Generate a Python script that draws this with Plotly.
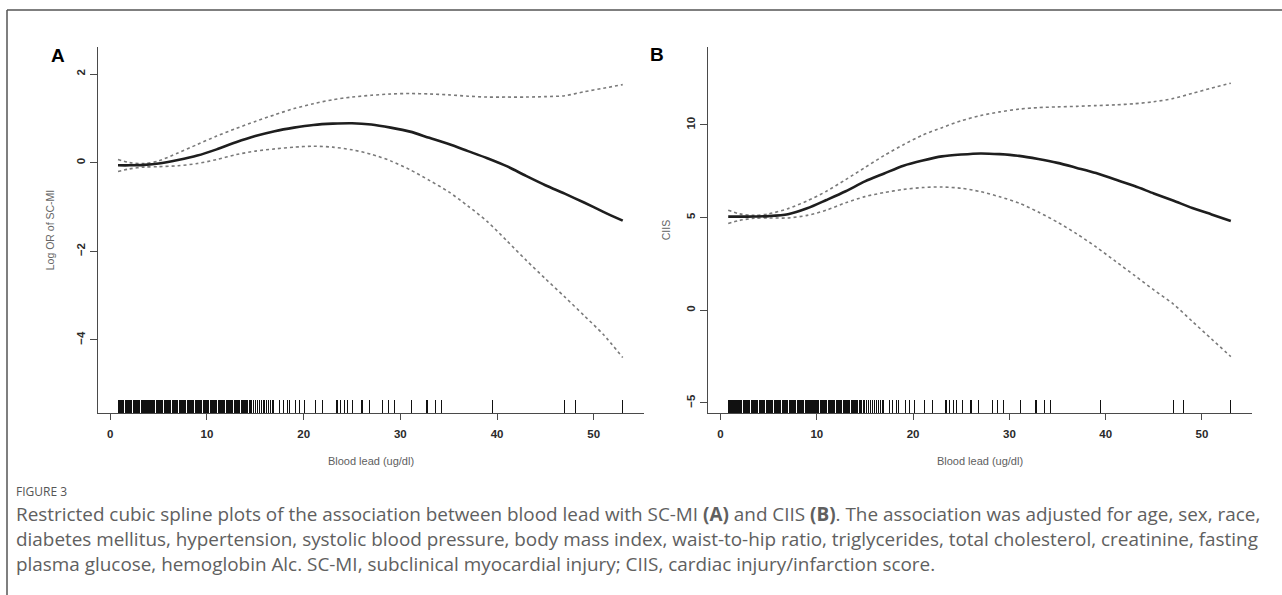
import plotly.graph_objects as go

W, H = 1282, 595

# ---------------- data ----------------
x_grid = [0.8, 2, 3.5, 5, 7, 9, 11, 13, 15, 17, 19, 21, 23, 25, 27, 29, 31,
          33, 35, 37, 39, 41, 43, 45, 47, 49, 51, 53]

# Panel A: log OR of SC-MI
a_fit = [-0.06, -0.06, -0.05, -0.02, 0.06, 0.16, 0.30, 0.46, 0.60, 0.71, 0.79,
         0.85, 0.88, 0.89, 0.86, 0.79, 0.70, 0.56, 0.42, 0.26, 0.10, -0.08,
         -0.30, -0.51, -0.70, -0.90, -1.11, -1.31]
a_upper = [0.07, 0.00, -0.02, 0.04, 0.22, 0.41, 0.60, 0.77, 0.93, 1.08, 1.22,
           1.33, 1.42, 1.48, 1.52, 1.55, 1.56, 1.55, 1.53, 1.50, 1.48, 1.48,
           1.48, 1.49, 1.51, 1.60, 1.68, 1.76]
a_lower = [-0.20, -0.14, -0.10, -0.09, -0.07, -0.02, 0.07, 0.18, 0.26, 0.31,
           0.35, 0.37, 0.35, 0.29, 0.19, 0.04, -0.16, -0.40, -0.66, -0.98,
           -1.33, -1.76, -2.20, -2.62, -3.03, -3.45, -3.88, -4.40]

# Panel B: CIIS
b_fit = [5.05, 5.05, 5.06, 5.08, 5.18, 5.50, 5.95, 6.42, 6.95, 7.38, 7.80,
         8.08, 8.30, 8.40, 8.46, 8.42, 8.33, 8.16, 7.95, 7.68, 7.40, 7.05,
         6.70, 6.30, 5.92, 5.52, 5.17, 4.82]
b_upper = [5.40, 5.20, 5.12, 5.20, 5.48, 5.90, 6.42, 7.05, 7.70, 8.35, 8.93,
           9.45, 9.85, 10.22, 10.50, 10.70, 10.85, 10.93, 10.97, 11.00, 11.04,
           11.08, 11.14, 11.25, 11.42, 11.70, 11.98, 12.25]
b_lower = [4.68, 4.85, 4.96, 4.98, 4.98, 5.12, 5.40, 5.80, 6.13, 6.35, 6.52,
           6.62, 6.65, 6.58, 6.40, 6.12, 5.78, 5.30, 4.75, 4.12, 3.42, 2.65,
           1.88, 1.10, 0.35, -0.60, -1.55, -2.50]

# Rug: observed blood lead values (ug/dl)
rug_dense = [0.8, 0.9, 1.0, 1.1, 1.2, 1.3, 1.4, 1.6, 1.7, 1.8, 1.9, 2.0,
             2.1, 2.2, 2.4, 2.5, 2.6, 2.7, 2.8, 2.9, 3.0, 3.2, 3.3, 3.4,
             3.5, 3.6, 3.7, 3.8, 4.0, 4.1, 4.2, 4.3, 4.4, 4.5, 4.6, 4.8,
             4.9, 5.0, 5.1, 5.2, 5.3, 5.4, 5.6, 5.7, 5.8, 5.9, 6.0, 6.1,
             6.2, 6.4, 6.5, 6.6, 6.7, 6.8, 6.9, 7.0, 7.2, 7.3, 7.4, 7.5,
             7.6, 7.7, 7.8, 8.0, 8.1, 8.2, 8.3, 8.4, 8.5, 8.6, 8.8, 8.9,
             9.0, 9.1, 9.2, 9.3, 9.4, 9.6, 9.7, 9.8, 9.9, 10.0, 10.1, 10.2,
             10.4, 10.5, 10.6, 10.7, 10.8, 10.9, 11.0, 11.2, 11.3, 11.4, 11.5,
             11.6, 11.7, 11.8, 12.0, 12.1, 12.2, 12.3, 12.4, 12.5, 12.6, 12.8,
             12.9, 13.0, 13.1, 13.2, 13.3, 13.4, 13.6, 13.7, 13.8, 13.9, 14.0,
             14.1, 14.2, 14.4, 14.5]
rug_sparse = [14.6, 14.8, 15.0, 15.2, 15.4, 15.6, 15.8, 16.0, 16.2, 16.4,
              16.6, 16.8, 16.9,
              17.5, 17.9, 18.3, 18.5, 19.2, 19.6, 20.1, 21.2, 22.0, 23.4,
              23.5, 23.8, 24.2, 24.5, 25.1, 26.0, 26.1, 26.8, 28.2, 28.8,
              29.4, 31.2, 32.7, 32.8, 33.6, 34.3, 39.5, 47.0, 48.1, 53.0]
rug_values = rug_dense + rug_sparse

x_ticks = [0, 10, 20, 30, 40, 50]
a_yticks = [-4, -2, 0, 2]
b_yticks = [-5, 0, 5, 10]

x_title = "Blood lead (ug/dl)"
a_ytitle = "Log OR of SC-MI"
b_ytitle = "CIIS"

caption_head = "FIGURE 3"
caption_lines = [
    "Restricted cubic spline plots of the association between blood lead with SC-MI <b>(A)</b> and CIIS <b>(B)</b>. The association was adjusted for age, sex, race,",
    "diabetes mellitus, hypertension, systolic blood pressure, body mass index, waist-to-hip ratio, triglycerides, total cholesterol, creatinine, fasting",
    "plasma glucose, hemoglobin Alc. SC-MI, subclinical myocardial injury; CIIS, cardiac injury/infarction score.",
]

# ---------------- styling ----------------
FONT = "Liberation Sans"
AXIS_COL = "#4a4a4a"
FIT_COL = "#1e1e1e"
CI_COL = "#7a7a7a"

fig = go.Figure()

def add_panel(xa, ya, fit, upper, lower):
    for ys in (upper, lower):
        fig.add_trace(go.Scatter(x=x_grid, y=ys, mode="lines", xaxis=xa, yaxis=ya,
                                 line=dict(color=CI_COL, width=1.6, dash="dot", shape="spline", smoothing=0.8),
                                 showlegend=False, hoverinfo="skip"))
    fig.add_trace(go.Scatter(x=x_grid, y=fit, mode="lines", xaxis=xa, yaxis=ya,
                             line=dict(color=FIT_COL, width=2.6, shape="spline", smoothing=0.8),
                             showlegend=False, hoverinfo="skip"))

add_panel("x", "y", a_fit, a_upper, a_lower)
add_panel("x2", "y2", b_fit, b_upper, b_lower)

# empty traces so that the rug axes have subplots
fig.add_trace(go.Scatter(x=[], y=[], xaxis="x3", yaxis="y", showlegend=False, hoverinfo="skip"))
fig.add_trace(go.Scatter(x=[], y=[], xaxis="x4", yaxis="y2", showlegend=False, hoverinfo="skip"))

tick_font = dict(family=FONT, size=11.5, color="#2a2a2a", weight="bold")
title_font = dict(family=FONT, size=11, color="#606060")

def xaxis_cfg(dom, rng):
    return dict(domain=dom, range=rng, showline=True, linecolor=AXIS_COL, linewidth=1.2,
                ticks="outside", ticklen=6, tickwidth=1.2, tickcolor=AXIS_COL,
                tickmode="array", tickvals=x_ticks, tickfont=tick_font, ticklabelstandoff=4,
                showgrid=False, zeroline=False, fixedrange=True,
                title=dict(text=x_title, font=title_font, standoff=18))

def yaxis_cfg(dom, rng, tv, title, anchor, standoff):
    return dict(domain=dom, range=rng, anchor=anchor, showline=True, linecolor=AXIS_COL, linewidth=1.2,
                ticks="outside", ticklen=7, tickwidth=1.2, tickcolor=AXIS_COL,
                tickmode="array", tickvals=tv, tickangle=-90, tickfont=tick_font,
                showgrid=False, zeroline=False, fixedrange=True,
                title=dict(text=title, font=dict(family=FONT, size=10.5, color="#666666"), standoff=standoff))

def rug_cfg(over, anchor, rng):
    return dict(overlaying=over, anchor=anchor, range=rng, side="bottom",
                showline=False, showgrid=False, zeroline=False, showticklabels=False,
                ticks="inside", ticklen=13, tickwidth=1, tickcolor="#111111",
                tickmode="array", tickvals=rug_values, fixedrange=True)

y_dom = [1 - 413 / H, 1 - 47 / H]
a_xrange = [-1.27, 55.2]
b_xrange = [-1.30, 55.2]

fig.update_layout(
    width=W, height=H,
    margin=dict(l=0, r=0, t=0, b=0),
    paper_bgcolor="white", plot_bgcolor="white",
    showlegend=False,
    xaxis=dict(anchor="y", **xaxis_cfg([98 / W, 644 / W], a_xrange)),
    yaxis=yaxis_cfg(y_dom, [-5.65, 2.61], a_yticks, a_ytitle, "x", 18),
    xaxis2=dict(anchor="y2", **xaxis_cfg([708 / W, 1252 / W], b_xrange)),
    yaxis2=yaxis_cfg(y_dom, [-5.54, 14.2], b_yticks, b_ytitle, "x2", 12),
    xaxis3=rug_cfg("x", "y", a_xrange),
    xaxis4=rug_cfg("x2", "y2", b_xrange),
)

# frame lines (top and left)
fig.add_shape(type="line", xref="paper", yref="paper", x0=7 / W, x1=1, y0=1 - 10 / H, y1=1 - 10 / H,
              line=dict(color="#555555", width=1.5))
fig.add_shape(type="line", xref="paper", yref="paper", x0=7 / W, x1=7 / W, y0=0, y1=1 - 10 / H,
              line=dict(color="#555555", width=1.5))

# panel letters
for txt, px, py in (("A", 58, 55), ("B", 657, 54)):
    fig.add_annotation(text=f"<b>{txt}</b>", xref="paper", yref="paper", x=px / W, y=1 - py / H,
                       xanchor="center", yanchor="middle", showarrow=False,
                       font=dict(family=FONT, size=19, color="#000000"))

# caption
fig.add_annotation(text=caption_head, xref="paper", yref="paper", x=14 / W, y=1 - 491 / H,
                   xanchor="left", yanchor="middle", showarrow=False,
                   font=dict(family="Open Sans", size=12, color="#555555"))
for i, line in enumerate(caption_lines):
    fig.add_annotation(text=line, xref="paper", yref="paper", x=14 / W, y=1 - (514 + 25 * i) / H,
                       xanchor="left", yanchor="middle", showarrow=False, align="left",
                       font=dict(family="Open Sans", size=18.9, color="#606060"))

# remove the browser's default body margin so the figure fills the window exactly
fig.write_html("out.html", config={"displayModeBar": False},
               post_script="document.body.style.margin='0';document.body.style.overflow='hidden';")
